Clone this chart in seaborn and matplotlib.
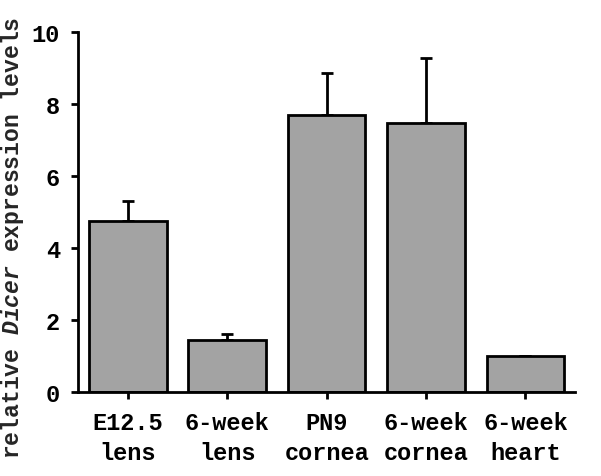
import matplotlib
matplotlib.use("Agg")
import matplotlib.pyplot as plt
import seaborn as sns
import pandas as pd

categories = ["E12.5\nlens", "6-week\nlens", "PN9\ncornea", "6-week\ncornea", "6-week\nheart"]
values = [4.75, 1.45, 7.68, 7.47, 1.0]
errors = [0.55, 0.15, 1.17, 1.81, 0.0]
yticks = [0, 2, 4, 6, 8, 10]

sns.set_style("ticks")
plt.rcParams["font.family"] = ["Liberation Mono", "DejaVu Sans"]
plt.rcParams["font.weight"] = "bold"
plt.rcParams["mathtext.fontset"] = "custom"
plt.rcParams["mathtext.rm"] = "Liberation Mono:bold"
plt.rcParams["mathtext.it"] = "Liberation Mono:italic:bold"

df = pd.DataFrame({"sample": categories, "level": values})

fig = plt.figure(figsize=(6.01, 4.77), dpi=100)
ax = fig.add_axes([0.13, 0.176, 0.827, 0.755])

lw = 2.0
sns.barplot(data=df, x="sample", y="level", color="#a3a3a3", saturation=1,
            width=0.78, edgecolor="black", linewidth=lw, ax=ax, zorder=2)
ax.errorbar(range(len(values)), values, yerr=[[0] * len(errors), errors],
            fmt="none", ecolor="black", elinewidth=lw, capsize=4.5,
            capthick=lw, zorder=1)

ax.set_xlim(-0.5, 4.5)
ax.set_ylim(0, 10)
ax.set_yticks(yticks)
ax.set_xlabel("")
ax.set_ylabel(r"relative $\mathit{Dicer}$ expression levels", fontsize=16.6,
              fontweight="bold")
ax.yaxis.set_label_coords(-0.105, 0.43)
ax.tick_params(axis="both", labelsize=17, width=lw, length=5, color="black",
               labelcolor="black")
ax.tick_params(axis="x", pad=9)
ax.tick_params(axis="y", pad=8)
for lab in ax.get_xticklabels() + ax.get_yticklabels():
    lab.set_fontweight("bold")
for lab in ax.get_xticklabels():
    lab.set_linespacing(1.35)
sns.despine(ax=ax)
for s in ["left", "bottom"]:
    ax.spines[s].set_linewidth(lw)
    ax.spines[s].set_color("black")

fig.savefig("out.png", dpi=100)
